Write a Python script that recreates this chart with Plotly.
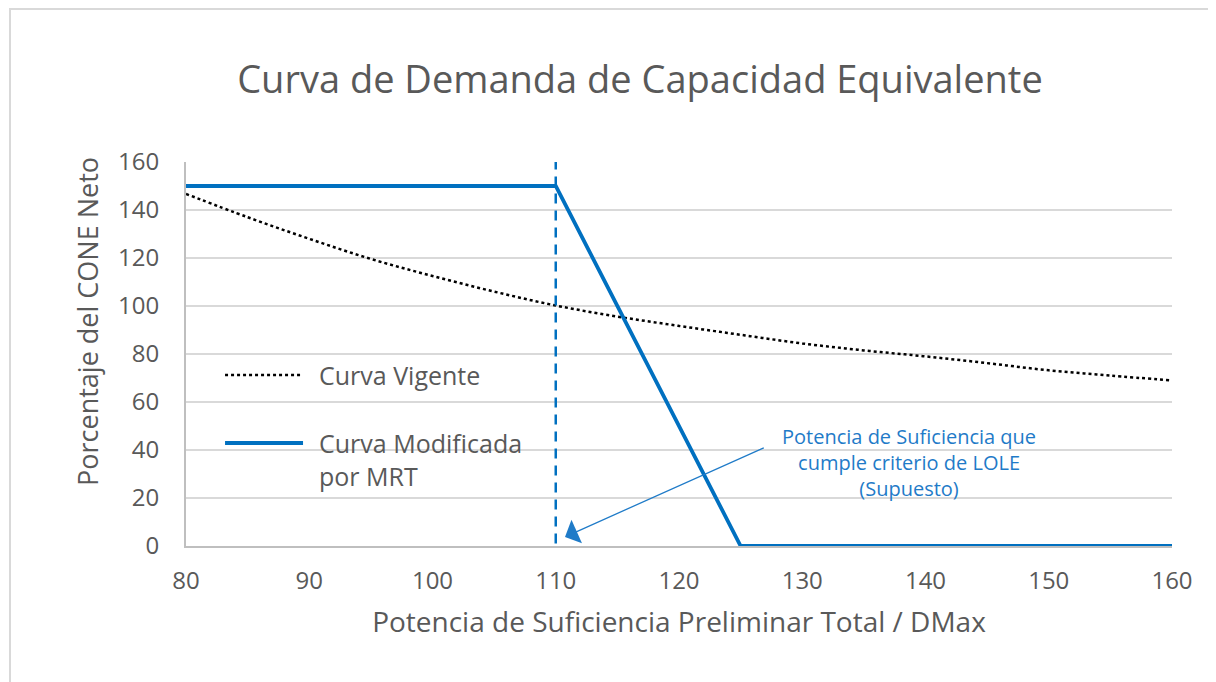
import plotly.graph_objects as go

# Curva vigente
x_vigente = [80, 85, 90, 95, 100, 105, 110, 115, 120, 125, 130, 135, 140, 145, 150, 155, 160]
y_vigente = [146.7, 137, 128, 119.6, 112.5, 106, 100.2, 95.6, 91.7, 88, 84.4, 81.5, 79, 76.2, 73.2, 71, 69]

# Curva modificada por MRT
x_mrt = [80, 110, 125, 160]
y_mrt = [150, 150, 0, 0]

# vertical reference at 110, and the LOLE arrow (tail -> head)
x_ref = 110
y_ref_span = [-6, 164]
arrow_tail = (127.0, 41.2)
arrow_head = (110.75, 3.8)
note_pos = (138.7, 35)
note_text = "Potencia de Suficiencia que<br>cumple criterio de LOLE<br>(Supuesto)"

legend_names = ["Curva Vigente", "Curva Modificada<br>por MRT"]

x_ticks = [80, 90, 100, 110, 120, 130, 140, 150, 160]
y_ticks = [0, 20, 40, 60, 80, 100, 120, 140, 160]

FONT = "Open Sans, sans-serif"
GRAY = "#595959"
BLUE = "#0070C0"
NOTE_BLUE = "#1F7BC8"

fig = go.Figure()

fig.add_trace(go.Scatter(
    x=x_vigente, y=y_vigente, mode="lines", name=legend_names[0],
    line=dict(color="black", width=2.5, dash="dot", shape="spline"),
))
fig.add_trace(go.Scatter(
    x=x_mrt, y=y_mrt, mode="lines", name=legend_names[1],
    line=dict(color=BLUE, width=3.8),
))

# dashed vertical line at 110
fig.add_shape(type="line", xref="x", yref="y",
              x0=x_ref, x1=x_ref, y0=y_ref_span[0], y1=y_ref_span[1],
              line=dict(color=BLUE, width=2.5, dash="10px,7px"))

# chart border (only top/left visible in the crop)
fig.add_shape(type="rect", xref="paper", yref="paper",
              x0=-0.1785, x1=1.2, y0=1.3984, y1=-0.5,
              line=dict(color="#D9D9D9", width=2), layer="below")

# legend drawn by hand so the keys get the long Excel-style swatches
fig.add_shape(type="line", xref="paper", yref="paper",
              x0=0.0396, x1=0.1187, y0=0.4453, y1=0.4453,
              line=dict(color="black", width=2.5, dash="dot"))
fig.add_shape(type="line", xref="paper", yref="paper",
              x0=0.0396, x1=0.1187, y0=0.2682, y1=0.2682,
              line=dict(color=BLUE, width=3.8))
fig.add_annotation(x=0.1329, y=0.4453, xref="paper", yref="paper", text=legend_names[0],
                   xanchor="left", yanchor="middle", showarrow=False, align="left",
                   font=dict(family=FONT, size=25, color=GRAY))
fig.add_annotation(x=0.1329, y=0.2253, xref="paper", yref="paper", text=legend_names[1],
                   xanchor="left", yanchor="middle", showarrow=False, align="left",
                   font=dict(family=FONT, size=25, color=GRAY))

# arrow
fig.add_annotation(x=arrow_head[0], y=arrow_head[1], ax=arrow_tail[0], ay=arrow_tail[1],
                   xref="x", yref="y", axref="x", ayref="y", text="",
                   showarrow=True, arrowhead=1, arrowsize=3.3, arrowwidth=1.3,
                   arrowcolor=NOTE_BLUE)
# arrow note
fig.add_annotation(x=note_pos[0], y=note_pos[1], xref="x", yref="y", text=note_text,
                   showarrow=False, font=dict(family=FONT, size=20, color=NOTE_BLUE),
                   align="center")

# y axis title placed like the original
fig.add_annotation(x=-0.0994, y=0.586, xref="paper", yref="paper",
                   xanchor="center", yanchor="middle",
                   text="Porcentaje del CONE Neto", textangle=-90, showarrow=False,
                   font=dict(family=FONT, size=27, color=GRAY))

fig.update_layout(
    width=1216, height=682,
    margin=dict(l=178, r=52, t=154, b=144),
    paper_bgcolor="white", plot_bgcolor="white",
    font=dict(family=FONT, color=GRAY, size=22),
    showlegend=False,
    title=dict(text="Curva de Demanda de Capacidad Equivalente",
               x=0.5197, xanchor="center", y=0.8944, yanchor="middle",
               font=dict(family=FONT, size=38, color=GRAY)),
)

fig.update_xaxes(range=[80, 160], tickvals=x_ticks, showgrid=False,
                 showline=True, linecolor="#BFBFBF", linewidth=2,
                 tickfont=dict(family=FONT, size=24, color=GRAY), ticklabelstandoff=12,
                 zeroline=False,
                 title=dict(text="Potencia de Suficiencia Preliminar Total / DMax",
                            font=dict(family=FONT, size=28, color=GRAY), standoff=18))
fig.update_yaxes(range=[0, 160], tickvals=y_ticks, showgrid=True,
                 gridcolor="#D9D9D9", gridwidth=1.5,
                 showline=True, linecolor="#BFBFBF", linewidth=2,
                 tickfont=dict(family=FONT, size=24, color=GRAY), ticklabelstandoff=20,
                 zeroline=False)

fig.write_html("out.html")
